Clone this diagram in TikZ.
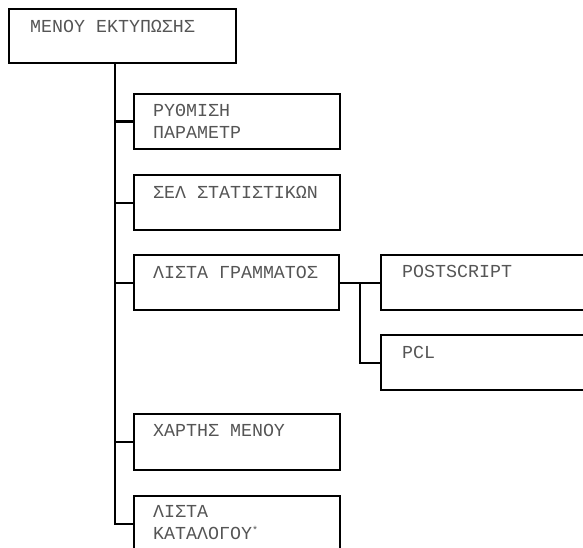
\documentclass[tikz,border=0pt]{standalone}
\usepackage{fontspec}
\setmonofont{Liberation Mono}
\usetikzlibrary{calc}
\definecolor{txtgray}{RGB}{85,85,85}
\begin{document}
\begin{tikzpicture}[x=1pt,y=-1pt,
  box/.style={draw=black,line width=2.1pt,rectangle,inner sep=0pt,minimum width=206pt,minimum height=55pt,anchor=north west},
  widebox/.style={box,minimum width=240pt},
  txt/.style={anchor=base west,inner sep=0pt,text=txtgray,font=\ttfamily\fontsize{18.3}{22}\selectfont},
  conn/.style={line width=2.1pt}]
\useasboundingbox (0,0) rectangle (583,548);
\clip (0,0) rectangle (583,548);
% boxes
\node[box,minimum width=227pt,minimum height=54pt] (top) at (8,8) {};
\node[box] (b1) at (133,93) {};
\node[box] (b2) at (133,174) {};
\node[box,minimum width=205pt] (b3) at (133,254) {};
\node[widebox] (ps) at (380,254) {};
\node[widebox] (pcl) at (380,334) {};
\node[box,minimum height=56pt] (b4) at (133,413) {};
\node[box] (b5) at (133,495) {};
% texts
\node[txt] (topt) at (30,33) {ΜΕΝΟΥ ΕΚΤΥΠΩΣΗΣ};
\node[txt] (b1ta) at (153,117) {ΡΥΘΜΙΣΗ};
\node[txt] (b1tb) at (153,139) {ΠΑΡΑΜΕΤΡ};
\node[txt] (b2t) at (153,198) {ΣΕΛ ΣΤΑΤΙΣΤΙΚΩΝ};
\node[txt] (b3t) at (153,278) {ΛΙΣΤΑ ΓΡΑΜΜΑΤΟΣ};
\node[txt] (pst) at (402,277) {POSTSCRIPT};
\node[txt] (pclt) at (402,358) {PCL};
\node[txt] (b4t) at (153,436) {ΧΑΡΤΗΣ ΜΕΝΟΥ};
\node[txt] (b5ta) at (153,517) {ΛΙΣΤΑ};
\node[txt] (b5tb) at (153,539) {ΚΑΤΑΛΟΓΟΥ\raisebox{0.3em}{\fontsize{10}{10}\selectfont *}};
% connectors
\coordinate (t0) at (top.south -| 115,0);
\draw[conn] (t0) |- (b1.west);
\draw[conn] (t0) |- (b2.west);
\draw[conn] (t0) |- (b3.west);
\draw[conn] (t0) |- (b4.west);
\draw[conn] (t0) |- (b5.west);
\draw[conn] (b3.east) -- (ps.west);
\coordinate (s0) at ($(b3.east)!0.5!(ps.west)$);
\draw[conn] (s0) |- (pcl.west);
\end{tikzpicture}
\end{document}
